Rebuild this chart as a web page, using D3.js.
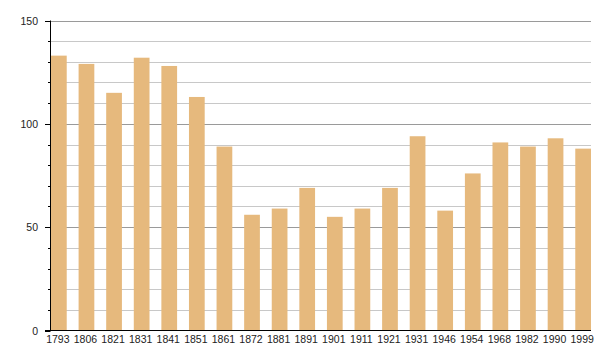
<!DOCTYPE html>
<html>
<head>
<meta charset="utf-8">
<script src="https://cdn.jsdelivr.net/npm/d3@7"></script>
<style>
  body { margin: 0; background: #fff; }
  svg { display: block; font-family: "Liberation Sans", Arial, sans-serif; }
</style>
</head>
<body>
<div id="chart"></div>
<script>
// population per census year
var years = ["1793", "1806", "1821", "1831", "1841", "1851", "1861", "1872", "1881", "1891",
             "1901", "1911", "1921", "1931", "1946", "1954", "1968", "1982", "1990", "1999"];
var values = [133, 129, 115, 132, 128, 113, 89, 56, 59, 69,
              55, 59, 69, 94, 58, 76, 91, 89, 93, 88];
var yTicks = [0, 50, 100, 150];

var width = 600, height = 360,
    plotLeft = 50.5, plotRight = 591, plotTop = 20.5, plotBottom = 330.5;

var svg = d3.select("#chart").append("svg")
    .attr("width", width)
    .attr("height", height);

var x = d3.scaleBand()
    .domain(years)
    .range([plotLeft + 0.5, plotRight])
    .paddingInner(0.43)
    .paddingOuter(0);

var y = d3.scaleLinear()
    .domain([0, 150])
    .range([plotBottom, plotTop]);

// grid lines, every 10, darker every 50
var gridVals = d3.range(10, 151, 10);
svg.append("g")
  .selectAll("line")
  .data(gridVals)
  .enter()
  .append("line")
    .attr("x1", plotLeft)
    .attr("x2", plotRight)
    .attr("y1", function(d) { return Math.round(y(d)) + 0.5; })
    .attr("y2", function(d) { return Math.round(y(d)) + 0.5; })
    .attr("stroke", function(d) { return d % 50 === 0 ? "#9a9a9a" : "#c8c8c8"; })
    .attr("stroke-width", 1);

// bars
svg.append("g")
  .selectAll("rect")
  .data(values)
  .enter()
  .append("rect")
    .attr("x", function(d, i) { return x(years[i]); })
    .attr("width", x.bandwidth())
    .attr("y", function(d) { return y(d); })
    .attr("height", function(d) { return plotBottom - y(d); })
    .attr("fill", "#e6b97d");

// y axis: minor ticks every 10, long ticks with labels every 50
var yAxis = svg.append("g");
yAxis.append("line")
    .attr("x1", plotLeft).attr("x2", plotLeft)
    .attr("y1", plotTop).attr("y2", plotBottom)
    .attr("stroke", "#000");
yAxis.selectAll("line.tick")
  .data(d3.range(0, 151, 10))
  .enter()
  .append("line")
    .attr("class", "tick")
    .attr("x1", function(d) { return d % 50 === 0 ? plotLeft - 5.5 : plotLeft - 2.5; })
    .attr("x2", plotLeft)
    .attr("y1", function(d) { return Math.round(y(d)) + 0.5; })
    .attr("y2", function(d) { return Math.round(y(d)) + 0.5; })
    .attr("stroke", "#000");
yAxis.selectAll("text")
  .data(yTicks)
  .enter()
  .append("text")
    .attr("x", 38)
    .attr("y", function(d) { return y(d) + 4; })
    .attr("text-anchor", "end")
    .attr("font-size", "10.5px")
    .attr("fill", "#222")
    .text(function(d) { return d; });

// x axis line
svg.append("line")
    .attr("x1", plotLeft - 5.5).attr("x2", plotRight)
    .attr("y1", plotBottom).attr("y2", plotBottom)
    .attr("stroke", "#000")
    .attr("stroke-width", 1.2);

// year labels
svg.append("g")
  .selectAll("text")
  .data(years)
  .enter()
  .append("text")
    .attr("x", function(d) { return x(d) + x.bandwidth() / 2 - 1; })
    .attr("y", 342.5)
    .attr("text-anchor", "middle")
    .attr("font-size", "10.5px")
    .attr("fill", "#222")
    .text(function(d) { return d; });
</script>
</body>
</html>
